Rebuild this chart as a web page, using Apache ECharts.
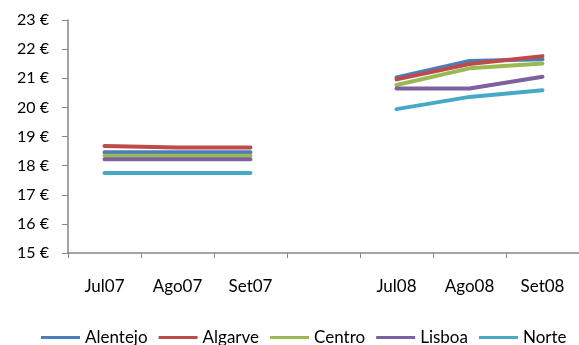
<!DOCTYPE html>
<html><head><meta charset="utf-8">
<script src="https://cdn.jsdelivr.net/npm/echarts@6/dist/echarts.min.js"></script>
<style>html,body{margin:0;padding:0;background:#fff}#c{width:579px;height:345px}</style>
</head><body><div id="c"></div>
<script>
const categories = ['Jul07','Ago07','Set07','','Jul08','Ago08','Set08'];
const alentejo = [18.46, 18.46, 18.46, null, 21.03, 21.59, 21.65];
const algarve  = [18.67, 18.62, 18.62, null, 20.96, 21.49, 21.76];
const centro   = [18.34, 18.34, 18.34, null, 20.77, 21.34, 21.51];
const lisboa   = [18.22, 18.22, 18.22, null, 20.65, 20.65, 21.05];
const norte    = [17.75, 17.75, 17.75, null, 19.94, 20.36, 20.59];
const seriesNames = ['Alentejo','Algarve','Centro','Lisboa','Norte'];
const colors = ['#4A7EBB','#BE4B48','#98B954','#7D60A0','#46AAC5'];
const values = [alentejo, algarve, centro, lisboa, norte];
const font = 'Lato, "Open Sans", sans-serif';
const chart = echarts.init(document.getElementById('c'));
chart.setOption({
  animation: false,
  textStyle: {fontFamily: font},
  grid: {left: 68, top: 20, width: 523, height: 233},
  legend: {
    top: 324, left: 36, itemWidth: 39, itemHeight: 3, icon: 'rect', itemGap: 11,
    textStyle: {fontSize: 17, color: '#000', fontFamily: font},
    data: seriesNames
  },
  xAxis: {
    type: 'category', data: categories, boundaryGap: true,
    axisLine: {lineStyle: {color: '#868686', width: 1.5}},
    axisTick: {show: true, length: 5, interval: 0, lineStyle: {color: '#868686'}},
    axisLabel: {margin: 25, fontSize: 17, color: '#000', interval: 0, fontFamily: font}
  },
  yAxis: {
    type: 'value', min: 15, max: 23, interval: 1,
    splitLine: {show: false},
    axisLine: {show: true, lineStyle: {color: '#868686', width: 1.5}},
    axisTick: {show: true, length: 6, lineStyle: {color: '#868686'}},
    axisLabel: {margin: 19, fontSize: 16, color: '#000', fontFamily: font, formatter: v => v + ' €'}
  },
  series: seriesNames.map((n, i) => ({
    name: n, type: 'line', data: values[i], symbol: 'none',
    lineStyle: {width: 4, color: colors[i], cap: 'round'}, itemStyle: {color: colors[i]}
  }))
});
</script></body></html>
